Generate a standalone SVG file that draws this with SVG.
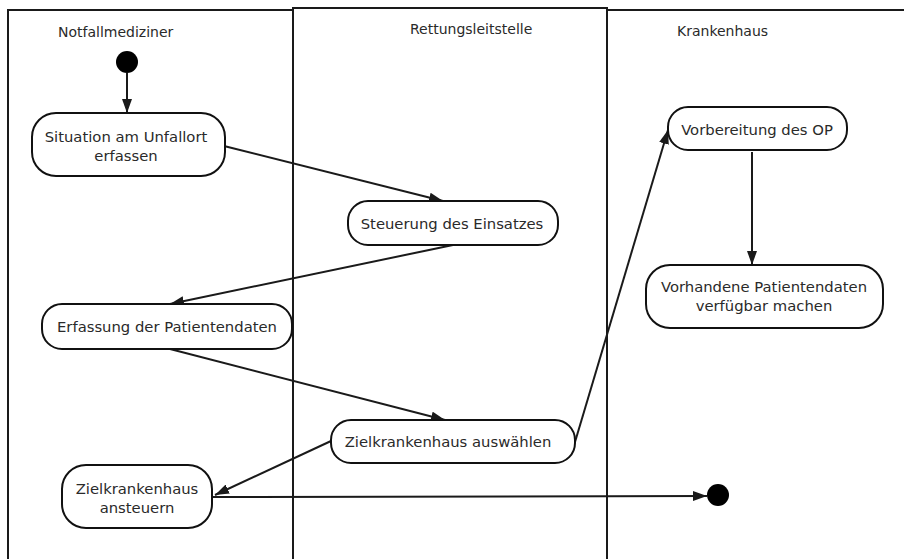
<svg xmlns="http://www.w3.org/2000/svg" width="904" height="559" viewBox="0 0 904 559">
  <style>
    .lane { fill: none; stroke: #1a1a1a; stroke-width: 2; }
    .title { font-family: "DejaVu Sans", "Liberation Sans", sans-serif; font-size: 14px; fill: #2a2a2a; }
    .act rect { fill: #fff; stroke: #111; stroke-width: 2; }
    .act text { font-family: "DejaVu Sans", "Liberation Sans", sans-serif; font-size: 14.8px; fill: #2a2a2a; text-anchor: middle; }
    .flow line { stroke: #1a1a1a; stroke-width: 2; marker-end: url(#arrow); }
    .dot { fill: #000; }
  </style>
  <defs>
    <marker id="arrow" viewBox="0 0 14 10" refX="14" refY="5" markerWidth="14" markerHeight="10" markerUnits="userSpaceOnUse" orient="auto">
      <path d="M0,0 L14,5 L0,10 Z" fill="#1a1a1a"/>
    </marker>
  </defs>
  <rect width="904" height="559" fill="#fff"/>

  <!-- swimlanes -->
  <g id="lanes">
    <path class="lane" d="M8,559 V10 H293 M607,10 H904"/>
    <path class="lane" d="M293,559 V8 H607 V559"/>
    <text class="title" x="58" y="37">Notfallmediziner</text>
    <text class="title" x="410" y="34">Rettungsleitstelle</text>
    <text class="title" x="677" y="36">Krankenhaus</text>
  </g>

  <!-- connectors -->
  <g id="connectors" class="flow">
    <line x1="127" y1="73" x2="127" y2="113"/>
    <line x1="224" y1="146" x2="443" y2="201"/>
    <line x1="453" y1="245" x2="170" y2="304"/>
    <line x1="170" y1="349" x2="445" y2="420"/>
    <line x1="331" y1="441" x2="215" y2="495"/>
    <line x1="575" y1="442" x2="668" y2="130"/>
    <line x1="752" y1="152" x2="752" y2="265"/>
    <line x1="213" y1="497" x2="707" y2="496"/>
  </g>

  <!-- start / end -->
  <g id="start"><circle class="dot" cx="127" cy="62" r="11"/></g>
  <g id="end"><circle class="dot" cx="718" cy="495" r="11"/></g>

  <g id="situation" class="act">
    <rect x="32" y="113" width="193" height="63" rx="24"/>
    <text x="126" y="142">Situation am Unfallort</text>
    <text x="126" y="161">erfassen</text>
  </g>
  <g id="steuerung" class="act">
    <rect x="348" y="201" width="210" height="44" rx="20"/>
    <text x="452" y="229">Steuerung des Einsatzes</text>
  </g>
  <g id="erfassung" class="act">
    <rect x="42" y="304" width="250" height="45" rx="20"/>
    <text x="167" y="332">Erfassung der Patientendaten</text>
  </g>
  <g id="auswaehlen" class="act">
    <rect x="331" y="420" width="244" height="43" rx="20"/>
    <text x="448" y="447">Zielkrankenhaus auswählen</text>
  </g>
  <g id="ansteuern" class="act">
    <rect x="62" y="465" width="150" height="63" rx="24"/>
    <text x="137" y="494">Zielkrankenhaus</text>
    <text x="137" y="513">ansteuern</text>
  </g>
  <g id="vorbereitung" class="act">
    <rect x="668" y="107" width="179" height="43" rx="20"/>
    <text x="757" y="135">Vorbereitung des OP</text>
  </g>
  <g id="patientendaten" class="act">
    <rect x="646" y="265" width="237" height="63" rx="24"/>
    <text x="764" y="292">Vorhandene Patientendaten</text>
    <text x="764" y="311">verfügbar machen</text>
  </g>
</svg>
